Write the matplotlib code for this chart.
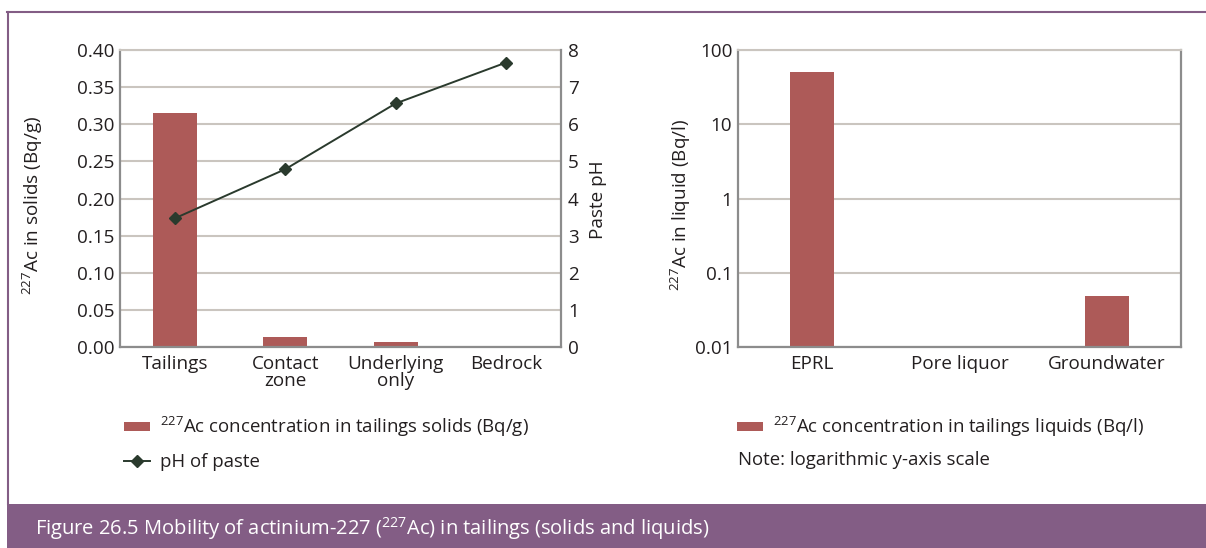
import matplotlib
matplotlib.use("Agg")
import matplotlib.pyplot as plt
import numpy as np
from matplotlib.patches import Rectangle, Patch
from matplotlib.lines import Line2D
from matplotlib.ticker import FixedLocator, FixedFormatter, NullLocator

# ---------------- data ----------------
solid_categories = ["Tailings", "Contact\nzone", "Underlying\nonly", "Bedrock"]
solid_ac227 = [0.315, 0.013, 0.007, 0.0015]          # Bq/g
paste_ph = [3.47, 4.79, 6.56, 7.66]

liquid_categories = ["EPRL", "Pore liquor", "Groundwater"]
liquid_ac227 = [51.0, np.nan, 0.049]                # Bq/l

solid_yticks = [0.00, 0.05, 0.10, 0.15, 0.20, 0.25, 0.30, 0.35, 0.40]
ph_yticks = [0, 1, 2, 3, 4, 5, 6, 7, 8]
liquid_yticks = [0.01, 0.1, 1, 10, 100]
liquid_yticklabels = ["0.01", "0.1", "1", "10", "100"]

# ---------------- style ----------------
plt.rcParams["font.family"] = ["Open Sans", "DejaVu Sans"]
plt.rcParams["mathtext.fontset"] = "custom"
plt.rcParams["mathtext.rm"] = "Open Sans"
plt.rcParams["mathtext.it"] = "Open Sans:italic"
plt.rcParams["mathtext.bf"] = "Open Sans:bold"

TXT = "#231F20"
BAR = "#AD5A58"
LINE = "#2A3A2D"
GRID = "#CAC5BF"
SPINE = "#8C8C8C"
PURPLE = "#835D85"
FS = 13.6
FS_LEG = 13.4
FS_CAP = 14.5

W, H = 1206, 548
fig = plt.figure(figsize=(W / 100, H / 100), dpi=100)

def fx(px):
    return px / W

def fy(py):
    return 1 - py / H

# ---------------- left chart ----------------
axL = fig.add_axes([fx(120), fy(347), fx(561) - fx(120), fy(50) - fy(347)])
x = np.arange(len(solid_categories))
axL.bar(x, solid_ac227, width=0.4, color=BAR, zorder=2)
axL.set_xlim(-0.5, len(solid_categories) - 0.5)
axL.set_ylim(0, 0.40)
axL.yaxis.set_major_locator(FixedLocator(solid_yticks))
axL.set_yticklabels([f"{v:.2f}" for v in solid_yticks])
axL.set_xticks(x)
axL.set_xticklabels(solid_categories, linespacing=0.9)
axL.grid(axis="y", color=GRID, linewidth=1.5, zorder=0)
axL.set_axisbelow(True)
axL.tick_params(axis="both", length=0, labelsize=FS, labelcolor=TXT)
axL.tick_params(axis="y", pad=4)
axL.tick_params(axis="x", pad=6)
for s in ["left", "bottom"]:
    axL.spines[s].set_color(SPINE)
    axL.spines[s].set_linewidth(1.6)
axL.spines["top"].set_color(GRID)
axL.spines["top"].set_linewidth(1.5)
axL.spines["right"].set_visible(False)

axR = axL.twinx()
axR.plot(x, paste_ph, color=LINE, linewidth=1.4, marker="D", markersize=6.5,
         markerfacecolor=LINE, markeredgecolor=LINE, zorder=3)
axR.set_ylim(0, 8)
axR.yaxis.set_major_locator(FixedLocator(ph_yticks))
axR.tick_params(axis="y", length=0, labelsize=FS, labelcolor=TXT, pad=5)
axR.spines["right"].set_color(SPINE)
axR.spines["right"].set_linewidth(1.6)
for s in ["left", "top", "bottom"]:
    axR.spines[s].set_visible(False)

fig.text(fx(33), fy(205), r"$^{\mathregular{227}}$Ac in solids (Bq/g)", rotation=90,
         ha="center", va="center", fontsize=FS, color=TXT)
fig.text(fx(598), fy(200), "Paste pH", rotation=90,
         ha="center", va="center", fontsize=FS, color=TXT)

# ---------------- right chart ----------------
axQ = fig.add_axes([fx(738), fy(347), fx(1181) - fx(738), fy(50) - fy(347)])
xq = np.arange(len(liquid_categories))
axQ.bar(xq, liquid_ac227, width=0.3, color=BAR, zorder=2)
axQ.set_yscale("log")
axQ.set_ylim(0.01, 100)
axQ.set_xlim(-0.5, len(liquid_categories) - 0.5)
axQ.yaxis.set_major_locator(FixedLocator(liquid_yticks))
axQ.yaxis.set_major_formatter(FixedFormatter(liquid_yticklabels))
axQ.yaxis.set_minor_locator(NullLocator())
axQ.set_xticks(xq)
axQ.set_xticklabels(liquid_categories)
axQ.grid(axis="y", which="major", color=GRID, linewidth=1.5, zorder=0)
axQ.set_axisbelow(True)
axQ.tick_params(axis="both", which="both", length=0, labelsize=FS, labelcolor=TXT)
axQ.tick_params(axis="y", pad=4)
axQ.tick_params(axis="x", pad=6)
for s in ["left", "bottom", "right"]:
    axQ.spines[s].set_color(SPINE)
    axQ.spines[s].set_linewidth(1.6)
axQ.spines["top"].set_color(GRID)
axQ.spines["top"].set_linewidth(1.5)

fig.text(fx(681), fy(205), r"$^{\mathregular{227}}$Ac in liquid (Bq/l)", rotation=90,
         ha="center", va="center", fontsize=FS, color=TXT)

# ---------------- legends ----------------
h_bar = Patch(facecolor=BAR, edgecolor="none")
h_line = Line2D([], [], color=LINE, linewidth=1.4, marker="D", markersize=6,
                markerfacecolor=LINE, markeredgecolor=LINE)
legL = fig.legend([h_bar, h_line],
                  [r"$^{\mathregular{227}}$Ac concentration in tailings solids (Bq/g)", "pH of paste"],
                  loc="upper left", bbox_to_anchor=(fx(124), fy(415)), frameon=False,
                  fontsize=FS_LEG, borderpad=0, borderaxespad=0, handlelength=1.4,
                  handleheight=0.4, handletextpad=0.55, labelspacing=0.75, labelcolor=TXT)
legQ = fig.legend([h_bar],
                  [r"$^{\mathregular{227}}$Ac concentration in tailings liquids (Bq/l)"],
                  loc="upper left", bbox_to_anchor=(fx(737), fy(415)), frameon=False,
                  fontsize=FS_LEG, borderpad=0, borderaxespad=0, handlelength=1.4,
                  handleheight=0.4, handletextpad=0.55, labelcolor=TXT)
fig.text(fx(738), fy(460), "Note: logarithmic y-axis scale", ha="left", va="center",
         fontsize=FS_LEG, color=TXT)

# ---------------- frame & caption band ----------------
fig.add_artist(Rectangle((fx(7), 0), 1 - fx(7), fy(504), transform=fig.transFigure,
                         facecolor=PURPLE, edgecolor="none", zorder=0))
fig.add_artist(Line2D([fx(8), fx(8)], [fy(504), fy(11.5)], transform=fig.transFigure,
                      color=PURPLE, linewidth=1.5))
fig.add_artist(Line2D([fx(7), 1], [fy(11.5), fy(11.5)], transform=fig.transFigure,
                      color=PURPLE, linewidth=1.5))
fig.text(fx(35), fy(529), r"Figure 26.5 Mobility of actinium-227 ($^{\mathregular{227}}$Ac) in tailings (solids and liquids)",
         ha="left", va="center", fontsize=FS_CAP, color="white")

fig.savefig("out.png", dpi=100)
